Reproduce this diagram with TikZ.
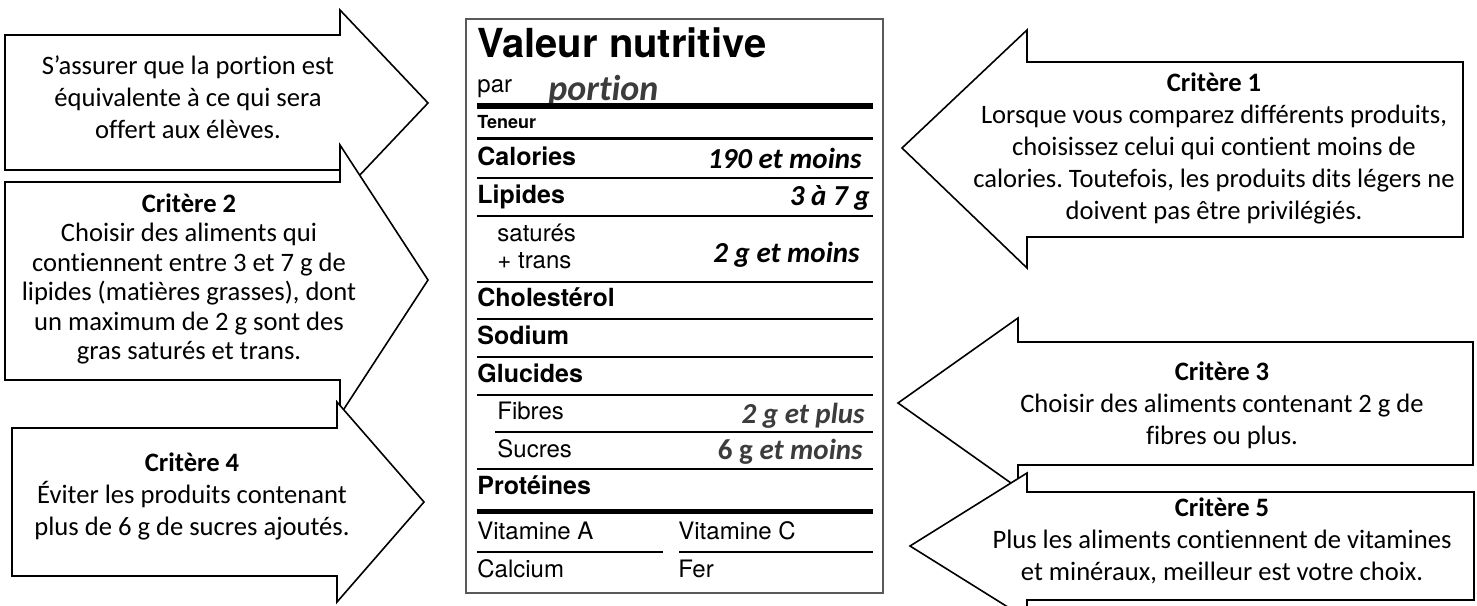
\documentclass[tikz,border=0pt]{standalone}
\usepackage{fontspec}
\setmainfont{Carlito}[Ligatures={TeX,NoCommon}]
\newfontfamily\labelfont{TeX Gyre Heros}
\usetikzlibrary{positioning}
\definecolor{valgray}{HTML}{3C3C3C}
\frenchspacing

\begin{document}
\begin{tikzpicture}[x=0.5pt, y=-0.5pt,
    callout/.style={draw, fill=white, line width=0.8pt, line join=miter},
    crit/.style={align=center, inner sep=0pt, font=\fontsize{13.3}{16}\selectfont},
    title/.style={anchor=base west, inner sep=0pt, font=\labelfont\bfseries\fontsize{20}{22}\selectfont},
    row/.style={anchor=base west, inner sep=0pt, font=\labelfont\bfseries\fontsize{12.5}{14}\selectfont},
    sub/.style={anchor=base west, inner sep=0pt, font=\labelfont\fontsize{12}{14}\selectfont},
    amount/.style={anchor=base east, inner sep=0pt, font=\bfseries\itshape\fontsize{14.5}{16}\selectfont},
    thinrule/.style={line width=0.8pt},
    thickrule/.style={line width=#1}]
  \useasboundingbox (0,0) rectangle (1477,605);
  \clip (0,0) rectangle (1477,605);

  % left callouts
  \draw[callout] (5,35) -- (340,35) -- (340,10) -- (428,103) -- (340,196) -- (340,170) -- (5,170) -- cycle;
  \node[crit] (portion) at (188,97) {S’assurer que la portion est\\équivalente à ce qui sera\\offert aux élèves.};
  \draw[callout] (5,182) -- (340,182) -- (340,145) -- (428,280) -- (340,415) -- (340,380) -- (5,380) -- cycle;
  \node[crit, font=\fontsize{13.3}{14.7}\selectfont] (crit2) at (189,279) {\textbf{Critère 2}\\Choisir des aliments qui\\contiennent entre 3 et 7 g de\\lipides (matières grasses), dont\\un maximum de 2 g sont des\\gras saturés et trans.};
  \draw[callout] (12,428) -- (337,428) -- (337,402) -- (424,502) -- (337,602) -- (337,576) -- (12,576) -- cycle;
  \node[crit] (crit4) at (192,496) {\textbf{Critère 4}\\Éviter les produits contenant\\plus de 6 g de sucres ajoutés.};

  % right callouts
  \draw[callout] (1463,62) -- (1027,62) -- (1027,30) -- (902,148) -- (1027,268) -- (1027,237) -- (1463,237) -- cycle;
  \node[crit] (crit1) at (1214,148) {\textbf{Critère 1}\\Lorsque vous comparez différents produits,\\choisissez celui qui contient moins de\\calories. Toutefois, les produits dits légers ne\\doivent pas être privilégiés.};
  \draw[callout] (1473,342) -- (1018,342) -- (1018,318) -- (898,403) -- (1018,488) -- (1018,465) -- (1473,465) -- cycle;
  \node[crit] (crit3) at (1222,405) {\textbf{Critère 3}\\Choisir des aliments contenant 2 g de\\fibres ou plus.};
  \draw[callout] (1474,492) -- (1027,492) -- (1027,473) -- (910,546) -- (1027,619) -- (1027,600) -- (1474,600) -- cycle;
  \node[crit] (crit5) at (1222,541) {\textbf{Critère 5}\\Plus les aliments contiennent de vitamines\\et minéraux, meilleur est votre choix.};

  % nutrition facts table
  \draw[gray!70!black, line width=0.8pt] (466,19) rectangle (883,593);
  \node[title] (valeur) at (477,57) {Valeur nutritive};
  \node[sub] (par) at (477,92) {par};
  \node[anchor=base west, inner sep=0pt, text=valgray, font=\bfseries\itshape\fontsize{18}{20}\selectfont] (serving) at (548,100) {portion};
  \draw[thickrule=3pt] (477,106) -- (873,106);
  \node[row, font=\labelfont\bfseries\fontsize{9}{10}\selectfont] (teneur) at (477,128) {Teneur};
  \draw[thickrule=1.5pt] (477,138) -- (873,138);
  \foreach \name/\txt/\yy in {cal/Calories/165, lip/Lipides/203, chol/Cholestérol/306, sod/Sodium/344, glu/Glucides/382, prot/Protéines/494}
    \node[row] (\name) at (477,\yy) {\txt};
  \foreach \name/\txt/\xx/\yy in {sat/saturés/497/241, trans/+ trans/497/268, fib/Fibres/497/419, suc/Sucres/497/457, vita/Vitamine A/477/539, vitc/Vitamine C/678/539, calc/Calcium/477/577, fer/Fer/678/577}
    \node[sub] (\name) at (\xx,\yy) {\txt};
  \foreach \yy in {178,216,282,319,395,469}
    \draw[thinrule] (477,\yy) -- (873,\yy);
  \draw[thickrule=1pt] (477,357) -- (873,357);
  \draw[thinrule] (495,432) -- (873,432);
  \draw[thickrule=2.5pt] (477,511) -- (873,511);
  \draw[thinrule] (477,552) -- (663,552);
  \draw[thinrule] (679,552) -- (873,552);

  \node[amount] (calval) at (862,168) {190 et moins};
  \node[amount] (lipval) at (870,205) {3 à 7 g};
  \node[amount] (satval) at (860,262) {2 g et moins};
  \node[amount, text=valgray] (fibval) at (865,423) {2 g et plus};
  \node[amount, text=valgray] (sucval) at (863,459) {\upshape 6 g \itshape et moins};
\end{tikzpicture}
\end{document}
